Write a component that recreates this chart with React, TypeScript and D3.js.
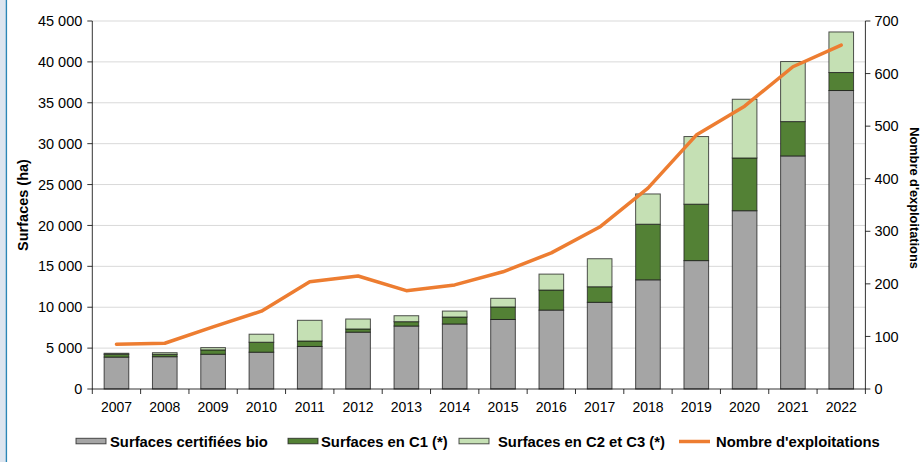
import React from "react";
import * as d3 from "d3";

const years = ["2007","2008","2009","2010","2011","2012","2013","2014","2015","2016","2017","2018","2019","2020","2021","2022"];
const certifiedBio = [3900, 3950, 4250, 4500, 5200, 6950, 7700, 7950, 8500, 9650, 10600, 13350, 15700, 21800, 28500, 36500];
const conversionC1 = [350, 290, 530, 1220, 670, 390, 530, 850, 1530, 2450, 1900, 6800, 6900, 6450, 4200, 2200];
const conversionC2C3 = [120, 200, 280, 980, 2530, 1220, 730, 730, 1060, 1950, 3430, 3700, 8270, 7180, 7340, 4960];
const exploitations = [85, 87, 118, 148, 204, 215, 187, 198, 223, 259, 308, 382, 483, 538, 613, 654];
const leftTicks = [0, 5000, 10000, 15000, 20000, 25000, 30000, 35000, 40000, 45000];
const rightTicks = [0, 100, 200, 300, 400, 500, 600, 700];

const seriesNames = ["Surfaces certifiées bio", "Surfaces en C1 (*)", "Surfaces en C2 et C3 (*)"];
const lineName = "Nombre d'exploitations";
const colors = ["#a5a5a5", "#538135", "#c5e0b4"];
const lineColor = "#ed7d31";
const FONT = "'Liberation Sans', Arial, sans-serif";

const W = 923, H = 462;
const M = { left: 92.3, right: 865.4, top: 21, bottom: 389 };

export default function App() {
  const x = d3.scaleBand<string>().domain(years).range([M.left, M.right]).paddingInner(0.49).paddingOuter(0.245);
  const band = (M.right - M.left) / years.length;
  const yL = d3.scaleLinear().domain([0, 45000]).range([M.bottom, M.top]);
  const yR = d3.scaleLinear().domain([0, 700]).range([M.bottom, M.top]);
  const fmt = (v: number) => d3.format(",")(v).replace(/,/g, " ");

  const table = years.map((yr, i) => ({ year: yr, a: certifiedBio[i], b: conversionC1[i], c: conversionC2C3[i] }));
  const stack = d3.stack<any>().keys(["a", "b", "c"])(table);

  const line = d3.line<number>()
    .x((_, i) => (x(years[i]) as number) + x.bandwidth() / 2)
    .y((d) => yR(d));

  const legendItems = [
    { kind: "rect", color: colors[0], label: seriesNames[0], sx: 76, tx: 110 },
    { kind: "rect", color: colors[1], label: seriesNames[1], sx: 288, tx: 321 },
    { kind: "rect", color: colors[2], label: seriesNames[2], sx: 459, tx: 498 },
    { kind: "line", color: lineColor, label: lineName, sx: 679, tx: 716 },
  ];

  return (
    <svg width={W} height={H} style={{ position: "absolute", left: 0, top: 0, display: "block", background: "#fff" }} fontFamily={FONT}>
      <rect x={0} y={0} width={5.8} height={H} fill="#dde5ef" />
      <line x1={6.4} x2={6.4} y1={0} y2={H} stroke="#2b86b6" strokeWidth={1.4} />

      {/* gridlines */}
      {leftTicks.filter((t) => t > 0).map((t) => (
        <line key={t} x1={M.left} x2={M.right} y1={yL(t)} y2={yL(t)} stroke="#d9d9d9" strokeWidth={1} />
      ))}

      {/* bars */}
      {stack.map((s, si) => (
        <g key={si}>
          {s.map((d, i) => (
            <rect key={i} x={x(years[i])} width={x.bandwidth()} y={yL(d[1])} height={Math.max(0, yL(d[0]) - yL(d[1]))}
              fill={colors[si]} stroke="#1a1a1a" strokeOpacity={0.75} strokeWidth={1} />
          ))}
        </g>
      ))}

      {/* line */}
      <path d={line(exploitations) as string} fill="none" stroke={lineColor} strokeWidth={3.5} strokeLinejoin="round" strokeLinecap="round" />

      {/* left axis */}
      <line x1={M.left} x2={M.left} y1={M.top} y2={M.bottom} stroke="#000" strokeOpacity={0.8} />
      {leftTicks.map((t) => (
        <g key={t}>
          <line x1={M.left - 5} x2={M.left} y1={yL(t)} y2={yL(t)} stroke="#000" strokeOpacity={0.8} />
          <text x={M.left - 10} y={yL(t)} dy="0.35em" textAnchor="end" fontSize={14.5} fill="#000">{fmt(t)}</text>
        </g>
      ))}
      <text transform={`translate(23,${(M.top + M.bottom) / 2}) rotate(-90)`} textAnchor="middle" dy="0.35em" fontSize={14.5} fontWeight="bold">Surfaces (ha)</text>

      {/* right axis */}
      <line x1={M.right} x2={M.right} y1={M.top} y2={M.bottom} stroke="#000" strokeOpacity={0.8} />
      {rightTicks.map((t) => (
        <g key={t}>
          <line x1={M.right} x2={M.right + 5} y1={yR(t)} y2={yR(t)} stroke="#000" strokeOpacity={0.8} />
          <text x={M.right + 9} y={yR(t)} dy="0.35em" textAnchor="start" fontSize={14.5} fill="#000">{t}</text>
        </g>
      ))}
      <text transform={`translate(914,${(M.top + M.bottom) / 2 - 7}) rotate(90)`} textAnchor="middle" dy="0.35em" fontSize={12.8} fontWeight="bold">{lineName}</text>

      {/* bottom axis */}
      <line x1={M.left} x2={M.right} y1={M.bottom} y2={M.bottom} stroke="#000" strokeOpacity={0.8} />
      {d3.range(years.length + 1).map((i) => (
        <line key={i} x1={M.left + i * band} x2={M.left + i * band} y1={M.bottom} y2={M.bottom + 5} stroke="#000" strokeOpacity={0.8} />
      ))}
      {years.map((yr) => (
        <text key={yr} x={(x(yr) as number) + x.bandwidth() / 2} y={407} dy="0.35em" textAnchor="middle" fontSize={14}>{yr}</text>
      ))}

      {/* legend */}
      {legendItems.map((it) => (
        <g key={it.label}>
          {it.kind === "rect" ? (
            <rect x={it.sx} y={438.3} width={30} height={5.5} fill={it.color} stroke="#1a1a1a" strokeOpacity={0.75} strokeWidth={1} />
          ) : (
            <line x1={it.sx} x2={it.sx + 31} y1={441.5} y2={441.5} stroke={it.color} strokeWidth={3.5} />
          )}
          <text x={it.tx} y={441.5} dy="0.35em" fontSize={14.8} fontWeight="bold">{it.label}</text>
        </g>
      ))}
    </svg>
  );
}
